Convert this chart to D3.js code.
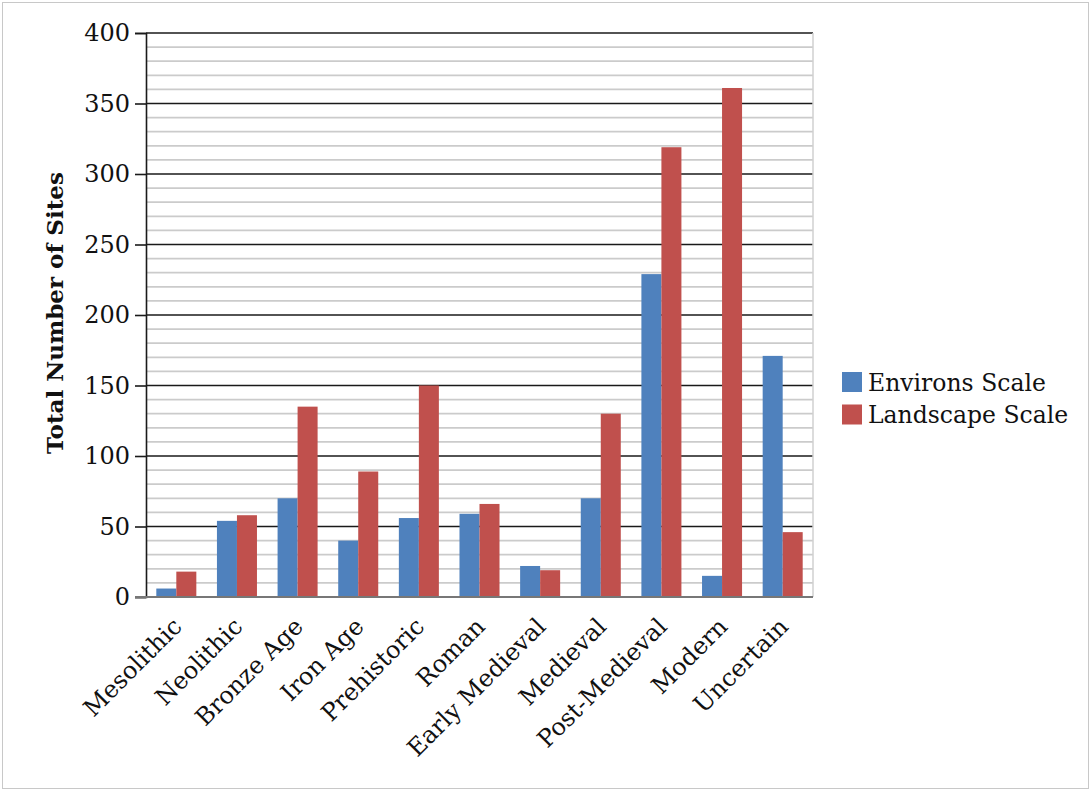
<!DOCTYPE html>
<html>
<head>
<meta charset="utf-8">
<script src="https://cdn.jsdelivr.net/npm/d3@7"></script>
<style>
  html, body { margin: 0; padding: 0; background: #fff; }
  svg { display: block; }
  text { font-family: "DejaVu Serif", "Liberation Serif", serif; fill: #111; }
</style>
</head>
<body>
<svg id="chart" width="1091" height="791"></svg>
<script>
// Site counts by period, at two survey scales
const categories = ["Mesolithic", "Neolithic", "Bronze Age", "Iron Age", "Prehistoric", "Roman",
  "Early Medieval", "Medieval", "Post-Medieval", "Modern", "Uncertain"];
const seriesNames = ["Environs Scale", "Landscape Scale"];
const environsValues = [6, 54, 70, 40, 56, 59, 22, 70, 229, 15, 171];
const landscapeValues = [18, 58, 135, 89, 150, 66, 19, 130, 319, 361, 46];
const yTicks = [0, 50, 100, 150, 200, 250, 300, 350, 400];
const seriesColors = ["#4F81BD", "#C0504D"];

const svg = d3.select("#chart");
const W = 1091, H = 791;
const plot = { left: 146, right: 813, top: 33, bottom: 597 };

// outer frame
svg.append("rect").attr("x", 2.5).attr("y", 2.5).attr("width", W - 5).attr("height", H - 5)
  .attr("fill", "#fff").attr("stroke", "#c8c8c8").attr("stroke-width", 1);

const x = d3.scaleBand().domain(categories).range([plot.left, plot.right]).paddingInner(0.34).paddingOuter(0.17);
const xs = d3.scaleBand().domain(seriesNames).range([0, x.bandwidth()]);
const y = d3.scaleLinear().domain([0, 400]).range([plot.bottom, plot.top]);

// minor gridlines every 10
const minor = d3.range(10, 400, 10).filter(v => v % 50 !== 0);
svg.append("g").selectAll("line").data(minor).join("line")
  .attr("x1", plot.left).attr("x2", plot.right)
  .attr("y1", d => y(d)).attr("y2", d => y(d))
  .attr("stroke", "#cbcbcb").attr("stroke-width", 1.7);

// major gridlines every 50
svg.append("g").selectAll("line").data(yTicks.filter(v => v > 0)).join("line")
  .attr("x1", plot.left).attr("x2", plot.right)
  .attr("y1", d => y(d)).attr("y2", d => y(d))
  .attr("stroke", "#1a1a1a").attr("stroke-width", 1.6);

// right edge of plot area
svg.append("line").attr("x1", plot.right).attr("x2", plot.right)
  .attr("y1", plot.top).attr("y2", plot.bottom)
  .attr("stroke", "#d0d0d0").attr("stroke-width", 1.5);

// bars
const rows = categories.map((c, i) => ({ cat: c, vals: [environsValues[i], landscapeValues[i]] }));
const groups = svg.append("g").selectAll("g").data(rows).join("g")
  .attr("transform", d => `translate(${x(d.cat)},0)`);
groups.selectAll("rect").data(d => d.vals.map((v, k) => ({ v, k }))).join("rect")
  .attr("x", d => xs(seriesNames[d.k]))
  .attr("width", xs.bandwidth())
  .attr("y", d => y(d.v))
  .attr("height", d => y(0) - y(d.v))
  .attr("fill", d => seriesColors[d.k]);

// y axis
const yAxis = svg.append("g").attr("transform", `translate(${plot.left},0)`)
  .call(d3.axisLeft(y).tickValues(yTicks).tickSize(11).tickPadding(5));
yAxis.select(".domain").attr("stroke", "#1a1a1a").attr("stroke-width", 1.6);
yAxis.selectAll(".tick line").attr("stroke", "#1a1a1a").attr("stroke-width", 1.6);
yAxis.selectAll(".tick text").style("font-size", "24px").attr("fill", "#111");

// x axis baseline
svg.append("line").attr("x1", plot.left - 11).attr("x2", plot.right)
  .attr("y1", y(0)).attr("y2", y(0)).attr("stroke", "#777").attr("stroke-width", 2);

// x category labels, rotated
const xAxis = svg.append("g").attr("transform", `translate(0,${plot.bottom})`)
  .call(d3.axisBottom(x).tickSize(0).tickPadding(0));
xAxis.select(".domain").remove();
xAxis.selectAll(".tick text")
  .style("font-size", "24px")
  .attr("text-anchor", "end")
  .attr("dy", "0")
  .attr("transform", "translate(7,31) rotate(-45)");

// y axis title
svg.append("text")
  .attr("transform", `translate(63,${(plot.top + plot.bottom) / 2 - 2}) rotate(-90)`)
  .attr("text-anchor", "middle")
  .style("font-size", "23px").style("font-weight", "bold")
  .text("Total Number of Sites");

// legend
const legend = svg.append("g").attr("transform", "translate(842,372)");
seriesNames.forEach((name, k) => {
  const g = legend.append("g").attr("transform", `translate(0,${k * 32.5})`);
  g.append("rect").attr("width", 20).attr("height", 20).attr("fill", seriesColors[k]);
  g.append("text").attr("x", 26).attr("y", 18.5).style("font-size", "23.5px").text(name);
});
</script>
</body>
</html>
